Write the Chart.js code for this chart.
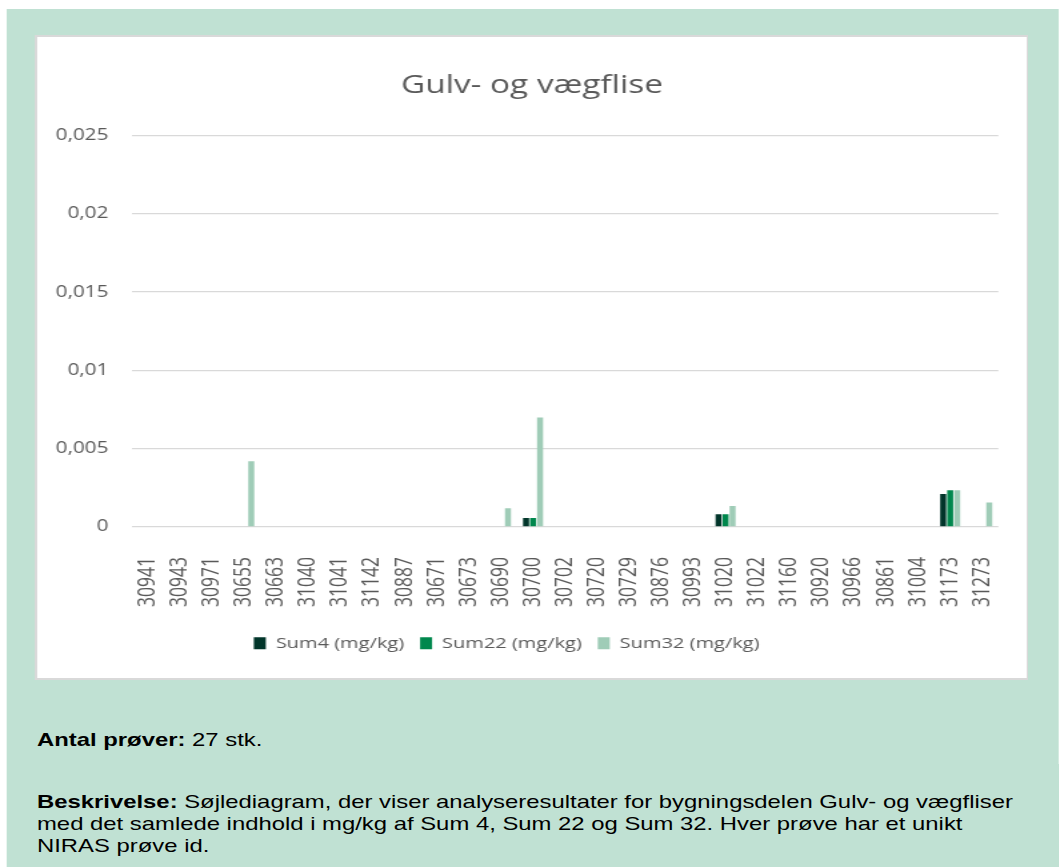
<!DOCTYPE html>
<html>
<head>
<meta charset="utf-8">
<script src="https://cdn.jsdelivr.net/npm/chart.js@4.4.1/dist/chart.umd.min.js"></script>
<style>
  html, body { margin: 0; padding: 0; background: #ffffff; width: 1059px; height: 867px; overflow: hidden; }
  #wrap { position: absolute; left: 0; top: 0; width: 794.25px; height: 867px; transform: scaleX(1.333333); transform-origin: 0 0; }
  #bg { position: absolute; left: 4.5px; top: 9px; width: 789.75px; height: 858px; background: #C0E1D3; }
  #frame { position: absolute; left: 26.25px; top: 35px; width: 745px; height: 645px; background: #d9d9d9; }
  #panel { position: absolute; left: 1.5px; top: 2px; width: 742px; height: 641px; background: #ffffff; }
  #chart { display: block; }
  .txt { position: absolute; left: 27.75px; font-family: "Liberation Sans", Arial, sans-serif; font-size: 17.9px; line-height: 22px; color: #000; white-space: nowrap; }
  #t1 { top: 729px; }
  #t2 { top: 791px; }
</style>
</head>
<body>
<div id="wrap">
  <div id="bg"></div>
  <div id="frame"><div id="panel"><canvas id="chart" width="742" height="641"></canvas></div></div>
  <div class="txt" id="t1"><b>Antal prøver:</b> 27 stk.</div>
  <div class="txt" id="t2"><b>Beskrivelse:</b> Søjlediagram, der viser analyseresultater for bygningsdelen Gulv- og vægfliser<br>med det samlede indhold i mg/kg af Sum 4, Sum 22 og Sum 32. Hver prøve har et unikt<br>NIRAS prøve id.</div>
</div>
<script>
const categories = ['30941','30943','30971','30655','30663','31040','31041','31142','30887','30671','30673','30690','30700','30702','30720','30729','30876','30993','31020','31022','31160','30920','30966','30861','31004','31173','31273'];
const sum4  = [0,0,0,0,0,0,0,0,0,0,0,0,0.00057,0,0,0,0,0,0.00082,0,0,0,0,0,0,0.0021,0];
const sum22 = [0,0,0,0,0,0,0,0,0,0,0,0,0.00057,0,0,0,0,0,0.00082,0,0,0,0,0,0,0.00235,0];
const sum32 = [0,0,0,0.0042,0,0,0,0,0,0,0,0.0012,0.007,0,0,0,0,0,0.00134,0,0,0,0,0,0,0.00235,0.00157];
const seriesNames = ['Sum4 (mg/kg)', 'Sum22 (mg/kg)', 'Sum32 (mg/kg)'];
const yTickLabels = ['0', '0,005', '0,01', '0,015', '0,02', '0,025'];
const chartTitle = 'Gulv- og vægflise';

const colors = ['#01352A', '#00874D', '#9FCCB7'];
const FONT = "'Open Sans', sans-serif";
const TXT = '#595959';
const LEGEND_DX = -19;

const legendShift = {
  id: 'legendShift',
  afterLayout(chart) {
    const l = chart.legend;
    if (l) { l.left += LEGEND_DX; l.right += LEGEND_DX; }
  }
};

new Chart(document.getElementById('chart'), {
  type: 'bar',
  data: {
    labels: categories,
    datasets: [sum4, sum22, sum32].map((d, i) => ({
      label: seriesNames[i],
      data: d,
      backgroundColor: colors[i],
      borderWidth: 0,
      categoryPercentage: 0.655,
      barPercentage: 0.857
    }))
  },
  plugins: [legendShift],
  options: {
    responsive: false,
    devicePixelRatio: 1,
    animation: false,
    layout: { padding: { left: 0, right: 0, top: 0, bottom: 17.25 } },
    plugins: {
      title: {
        display: true,
        text: chartTitle,
        color: TXT,
        font: { family: FONT, size: 25, weight: 'normal' },
        padding: { top: 33.5, bottom: 35 }
      },
      legend: {
        position: 'bottom',
        labels: {
          color: TXT,
          font: { family: FONT, size: 15 },
          boxWidth: 9,
          boxHeight: 12,
          padding: 12
        }
      },
      tooltip: { enabled: false }
    },
    scales: {
      x: {
        grid: { display: false },
        border: { display: false },
        ticks: {
          color: TXT,
          font: { family: FONT, size: 17.5 },
          maxRotation: 90,
          minRotation: 90,
          autoSkip: false,
          padding: 22
        },
        afterFit: s => { s.height = 96.75; s.paddingLeft = 0; s.paddingRight = 21.25; }
      },
      y: {
        min: 0,
        max: 0.025,
        grid: { color: '#d9d9d9', lineWidth: 1.3, drawTicks: false },
        border: { display: false },
        ticks: {
          stepSize: 0.005,
          color: TXT,
          font: { family: FONT, size: 15.5 },
          padding: 17.75,
          callback: (v, i) => yTickLabels[i]
        },
        afterFit: s => { s.width = 71; }
      }
    }
  }
});
</script>
</body>
</html>
